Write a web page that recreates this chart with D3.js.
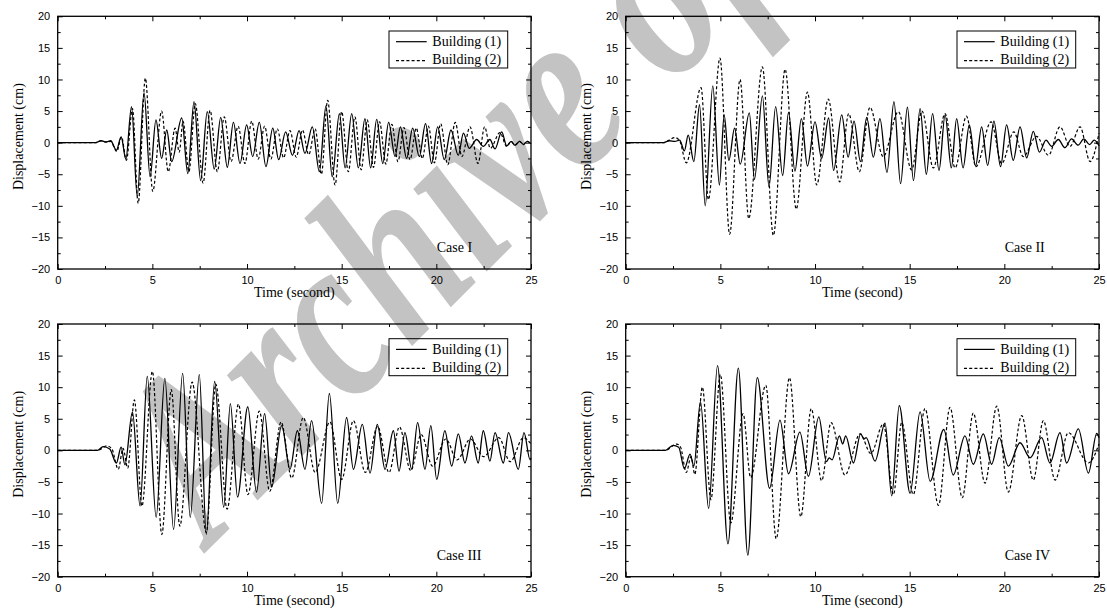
<!DOCTYPE html>
<html>
<head>
<meta charset="utf-8">
<script src="https://cdn.jsdelivr.net/npm/d3@7"></script>
<style>
  body { margin: 0; background: #fff; }
  svg { display: block; }
  .tick text { font-family: "Liberation Sans", Arial, sans-serif; font-size: 11px; fill: #000; }
  .serif { font-family: "Liberation Serif", "Times New Roman", serif; font-size: 14px; fill: #000; }
</style>
</head>
<body>
<div id="chart"></div>
<script>
const caseLabels = ["Case I", "Case II", "Case III", "Case IV"];
const seriesNames = ["Building (1)", "Building (2)"];
const xTicks = [0, 5, 10, 15, 20, 25];
const xMinor = [2.5, 7.5, 12.5, 17.5, 22.5];
const yTicks = [-20, -15, -10, -5, 0, 5, 10, 15, 20];
const yMinor = [-17.5, -12.5, -7.5, -2.5, 2.5, 7.5, 12.5, 17.5];

// [time (s), displacement (cm)] at the turning points
const case1B1 = [[0,0],[2.0,0],[2.3,0.3],[2.55,0.1],[2.8,0.3],[3.1,-1.2],[3.35,0.9],[3.6,-2.6],[3.9,5.7],[4.2,-8.5],[4.56,7.9],[4.88,-5.4],[5.19,3.6],[5.49,-2.5],[5.76,2.0],[6.02,-3.0],[6.55,3.9],[6.87,-4.9],[7.2,6.5],[7.55,-6.0],[7.9,4.9],[8.27,-4.2],[8.61,4.0],[8.96,-3.9],[9.28,3.2],[9.63,-3.3],[9.98,2.8],[10.3,-2.2],[10.65,3.2],[11.0,-3.8],[11.36,2.3],[11.67,-2.7],[12.04,1.7],[12.4,-2.0],[12.75,1.9],[13.06,-1.7],[13.45,2.5],[13.82,-4.6],[14.17,5.8],[14.5,-5.4],[14.88,4.6],[15.18,-4.0],[15.53,4.6],[15.88,-4.0],[16.23,3.8],[16.53,-4.0],[16.85,3.7],[17.17,-3.3],[17.48,3.2],[17.82,-2.2],[18.1,2.5],[18.43,-2.5],[18.75,2.3],[19.1,-2.2],[19.43,3.0],[19.75,-3.3],[20.07,2.5],[20.42,-2.7],[20.77,2.0],[21.16,-2.0],[21.43,1.5],[21.74,-0.9],[22.13,0.5],[22.48,-0.6],[22.83,0.5],[23.1,-1.0],[23.45,1.7],[23.72,-0.5],[23.95,0.2],[24.15,-0.4],[24.4,0.2],[24.6,-0.3],[24.8,0.2],[25,-0.2]];
const case1B2 = [[0,0],[2.0,0],[2.3,0.3],[2.55,0.1],[2.8,0.2],[3.12,-1.4],[3.37,0.9],[3.63,-2.8],[3.95,5.4],[4.25,-9.6],[4.63,10.2],[5.02,-7.7],[5.49,5.0],[5.84,-4.6],[6.2,2.3],[6.42,-1.5],[6.62,3.4],[6.93,-4.6],[7.27,6.2],[7.68,-6.4],[8.05,5.1],[8.43,-4.6],[8.8,4.1],[9.16,-3.0],[9.53,2.6],[9.89,-3.3],[10.25,3.4],[10.59,-2.6],[10.93,2.6],[11.26,-2.6],[11.6,2.2],[11.93,-2.4],[12.27,1.9],[12.6,-2.3],[12.93,2.0],[13.26,-1.9],[13.6,2.2],[13.93,-5.0],[14.26,6.7],[14.65,-6.7],[15.0,4.9],[15.35,-4.6],[15.7,4.1],[16.03,-4.3],[16.35,3.6],[16.68,-3.9],[17.0,3.3],[17.33,-3.4],[17.65,2.9],[17.97,-3.0],[18.29,2.4],[18.61,-2.7],[18.94,2.3],[19.26,-2.5],[19.58,2.6],[19.9,-3.2],[20.23,3.0],[20.6,-3.5],[21.0,3.2],[21.35,-2.2],[21.78,2.5],[22.2,-3.3],[22.55,2.5],[22.85,-0.9],[23.36,1.6],[23.72,-0.6],[23.95,0.2],[24.15,-0.4],[24.4,0.2],[24.6,-0.3],[24.8,0.2],[25,-0.2]];

const case2B1 = [[0,0],[2.0,0],[2.3,0.3],[2.6,0.2],[2.85,0.4],[3.1,-1.3],[3.3,1.2],[3.6,-3.0],[3.9,6.0],[4.2,-10.0],[4.6,9.0],[4.95,-6.7],[5.2,4.4],[5.45,-2.8],[5.75,2.3],[6.05,-3.4],[6.53,4.7],[6.8,-5.8],[7.22,7.4],[7.57,-7.0],[7.92,5.7],[8.29,-5.2],[8.6,4.8],[8.94,-4.5],[9.28,3.8],[9.6,-3.7],[10.0,3.3],[10.35,-2.5],[10.72,3.9],[10.98,-4.4],[11.41,4.4],[11.75,-2.3],[12.06,3.4],[12.4,-3.0],[12.73,4.0],[13.08,-2.3],[13.43,3.8],[13.8,-4.7],[14.17,6.5],[14.52,-6.5],[14.88,5.6],[15.2,-6.0],[15.55,5.4],[15.88,-5.0],[16.21,4.6],[16.55,-4.4],[16.87,4.4],[17.2,-4.0],[17.48,3.8],[17.82,-4.0],[18.15,2.8],[18.48,-3.7],[18.8,2.5],[19.12,-3.6],[19.45,3.4],[19.8,-3.8],[20.12,2.8],[20.47,-2.8],[20.83,2.5],[21.18,-2.4],[21.53,1.8],[21.85,-1.5],[22.2,0.4],[22.5,-0.6],[22.85,0.5],[23.2,-0.8],[23.55,0.6],[23.9,-0.4],[24.2,0.6],[24.5,-0.3],[24.75,0.4],[25,-0.5]];
const case2B2 = [[0,0],[2.0,0],[2.6,0.8],[2.85,0.3],[3.2,-3.2],[3.98,8.7],[4.37,-9.0],[4.98,13.4],[5.49,-14.5],[6.04,10.0],[6.5,-12.0],[7.22,12.0],[7.8,-14.7],[8.42,11.6],[9.01,-10.5],[9.6,8.0],[10.09,-6.7],[10.7,6.9],[11.3,-6.2],[11.78,4.6],[12.34,-4.6],[12.9,5.6],[13.6,-2.2],[14.4,4.9],[15.1,-4.3],[15.65,5.0],[16.25,-4.0],[16.87,4.6],[17.4,-4.0],[18.0,4.2],[18.5,-3.8],[19.3,3.3],[19.86,-3.3],[20.5,1.7],[21.0,-2.2],[21.7,1.0],[22.33,-2.0],[22.94,2.5],[23.47,-0.6],[24.0,2.5],[24.53,-3.0],[25,1.5]];

const case3B1 = [[0,0],[2.1,0],[2.4,0.6],[2.75,0.2],[3.1,-2.0],[3.35,0.5],[3.55,-2.3],[3.95,6.1],[4.35,-8.8],[4.73,11.7],[5.2,-10.6],[5.66,11.4],[6.12,-12.5],[6.6,12.2],[7.0,-10.6],[7.48,12.0],[7.85,-13.3],[8.29,10.9],[8.77,-9.0],[9.12,7.4],[9.5,-7.4],[10.04,6.9],[10.5,-6.6],[10.93,5.8],[11.3,-5.8],[11.83,3.9],[12.27,-3.0],[12.66,3.1],[13.06,-3.0],[13.41,4.7],[13.94,-8.4],[14.35,9.0],[14.79,-8.4],[15.26,5.2],[15.62,-3.0],[16.09,4.1],[16.5,-3.6],[16.88,4.1],[17.29,-3.0],[17.73,3.1],[18.03,-3.3],[18.34,2.8],[18.7,-3.0],[19.01,4.4],[19.4,-3.0],[19.71,3.9],[20.02,-4.6],[20.45,3.1],[20.81,-2.5],[21.16,2.6],[21.51,-2.0],[21.86,2.3],[22.21,-2.0],[22.48,3.1],[22.83,-1.7],[23.1,2.8],[23.54,-2.0],[23.81,2.8],[24.33,-3.0],[24.63,2.8],[24.95,-1.5],[25,-1.2]];
const case3B2 = [[0,0],[2.1,0],[2.6,0.7],[2.85,0.3],[3.2,-3.0],[3.45,0.3],[3.7,-2.8],[4.05,8.0],[4.45,-8.8],[5.0,12.5],[5.5,-13.3],[6.0,9.6],[6.45,-12.0],[7.1,10.8],[7.85,-13.0],[8.35,10.5],[8.95,-9.3],[9.55,7.3],[10.05,-7.0],[10.65,6.2],[11.2,-6.5],[11.8,4.5],[12.36,-4.4],[12.97,5.2],[13.6,-3.5],[14.38,4.5],[15.0,-4.6],[15.62,4.7],[16.25,-3.5],[16.9,3.8],[17.5,-3.5],[18.05,3.7],[18.65,-3.2],[19.2,2.5],[19.8,-2.5],[20.5,1.8],[21.1,-1.5],[21.8,1.8],[22.5,-1.0],[23.3,2.0],[23.9,-1.8],[24.6,2.0],[25,1.0]];

const case4B1 = [[0,0],[2.1,0],[2.5,0.8],[2.8,0.5],[3.1,-2.9],[3.4,-0.6],[3.6,-2.5],[3.95,7.7],[4.38,-9.2],[4.85,13.4],[5.4,-14.8],[5.95,13.0],[6.45,-16.6],[6.95,11.5],[7.6,-6.0],[8.15,4.8],[8.6,-3.7],[9.2,2.9],[9.65,-4.1],[10.2,5.3],[10.6,-1.8],[10.75,-1.2],[10.9,-1.5],[11.29,2.3],[11.46,1.0],[11.62,2.3],[12.03,-2.0],[12.41,2.6],[12.59,1.8],[12.7,2.0],[13.17,-1.7],[13.7,4.3],[14.05,-7.2],[14.45,7.1],[15.02,-6.8],[15.55,6.1],[16.08,-4.9],[16.8,3.3],[17.3,-3.9],[17.92,2.3],[18.36,-2.2],[18.89,2.6],[19.33,-2.2],[19.73,2.0],[20.21,-2.5],[20.83,1.2],[21.36,-1.2],[21.97,2.0],[22.41,-2.0],[22.94,2.8],[23.29,-2.0],[23.91,3.4],[24.44,-3.6],[24.88,2.7],[25,2.0]];
const case4B2 = [[0,0],[2.1,0],[2.7,1.0],[2.9,0.5],[3.2,-3.5],[3.45,-1.0],[3.65,-3.8],[4.05,10.0],[4.5,-7.8],[5.0,12.0],[5.55,-11.5],[6.2,5.8],[6.6,-4.3],[7.4,10.3],[7.95,-14.0],[8.65,11.5],[9.25,-10.5],[9.8,6.6],[10.35,-4.8],[10.85,4.4],[11.58,-3.9],[12.38,2.6],[12.95,-0.5],[13.61,4.2],[14.14,-7.0],[14.58,4.4],[15.19,-7.0],[15.81,6.6],[16.52,-8.7],[17.13,6.8],[17.78,-7.5],[18.36,5.9],[18.98,-5.2],[19.6,7.0],[20.21,-6.6],[20.92,5.5],[21.53,-4.7],[22.06,4.7],[22.68,-4.7],[23.38,2.8],[24.44,-2.0],[25,1.0]];

const panelSeries = [[case1B1, case1B2], [case2B1, case2B2], [case3B1, case3B2], [case4B1, case4B2]];

function drawChart() {
  const width = 1107, height = 611;
  const plotW = 473.3, plotH = 252.7;
  const origins = [[57.7, 16.3], [625.7, 16.3], [57.7, 324], [625.7, 324]];

  const x = d3.scaleLinear().domain([0, 25]).range([0, plotW]);
  const y = d3.scaleLinear().domain([-20, 20]).range([plotH, 0]);

  const svg = d3.select("#chart").append("svg")
    .attr("width", width)
    .attr("height", height);

  // grey watermark behind everything
  svg.append("text")
    .attr("transform", "translate(211,547) rotate(-45) scale(0.78,1)")
    .attr("font-family", "Liberation Serif, Times New Roman, serif")
    .attr("font-style", "italic")
    .attr("font-weight", "bold")
    .attr("font-size", 240)
    .attr("fill", "#c3c3c3")
    .text("Archive of");

  const line = d3.line()
    .x(d => x(d[0]))
    .y(d => y(d[1]))
    .curve(d3.curveMonotoneX);

  panelSeries.forEach((series, i) => {
    const g = svg.append("g").attr("transform", `translate(${origins[i]})`);

    const axes = [
      [d3.axisLeft(y).tickValues(yTicks).tickSize(-5).tickPadding(7.5), [0, 0]],
      [d3.axisLeft(y).tickValues(yMinor).tickSize(-3).tickFormat(""), [0, 0]],
      [d3.axisRight(y).tickValues(yTicks).tickSize(-5).tickFormat(""), [plotW, 0]],
      [d3.axisRight(y).tickValues(yMinor).tickSize(-3).tickFormat(""), [plotW, 0]],
      [d3.axisBottom(x).tickValues(xTicks).tickSize(-5).tickPadding(7.5), [0, plotH]],
      [d3.axisBottom(x).tickValues(xMinor).tickSize(-3).tickFormat(""), [0, plotH]],
      [d3.axisTop(x).tickValues(xTicks).tickSize(-5).tickFormat(""), [0, 0]],
      [d3.axisTop(x).tickValues(xMinor).tickSize(-3).tickFormat(""), [0, 0]]
    ];
    axes.forEach(([ax, pos]) => {
      g.append("g")
        .attr("transform", `translate(${pos})`)
        .call(ax.tickSizeOuter(0))
        .call(a => a.select(".domain").remove())
        .call(a => a.selectAll("line").attr("stroke", "#000").attr("stroke-width", 1));
    });

    g.append("rect")
      .attr("width", plotW)
      .attr("height", plotH)
      .attr("fill", "none")
      .attr("stroke", "#000")
      .attr("stroke-width", 1.3);

    g.selectAll("path.series")
      .data(series)
      .join("path")
        .attr("class", "series")
        .attr("d", line)
        .attr("fill", "none")
        .attr("stroke", "#000")
        .attr("stroke-width", (d, k) => k ? 1.2 : 1.3)
        .attr("stroke-dasharray", (d, k) => k ? "3,2.2" : null);

    // legend
    const lg = g.append("g").attr("transform", `translate(${plotW - 142}, 14.7)`);
    lg.append("rect")
      .attr("width", 118.7)
      .attr("height", 37)
      .attr("fill", "none")
      .attr("stroke", "#000")
      .attr("stroke-width", 1);
    seriesNames.forEach((name, k) => {
      lg.append("line")
        .attr("x1", 7).attr("x2", 37.7)
        .attr("y1", 10.7 + k * 19).attr("y2", 10.7 + k * 19)
        .attr("stroke", "#000")
        .attr("stroke-width", 1.2)
        .attr("stroke-dasharray", k ? "3,2.2" : null);
      lg.append("text")
        .attr("class", "serif")
        .attr("x", 43.3)
        .attr("y", 15.2 + k * 18)
        .text(name);
    });

    g.append("text")
      .attr("class", "serif")
      .attr("x", 379)
      .attr("y", plotH - 17)
      .text(caseLabels[i]);

    g.append("text")
      .attr("class", "serif")
      .attr("text-anchor", "middle")
      .attr("x", plotW / 2)
      .attr("y", plotH + 28)
      .text("Time (second)");

    g.append("text")
      .attr("class", "serif")
      .attr("text-anchor", "middle")
      .attr("transform", `translate(-34.5, ${plotH / 2 - 6}) rotate(-90)`)
      .text("Displacement (cm)");
  });
}

drawChart();
</script>
</body>
</html>
